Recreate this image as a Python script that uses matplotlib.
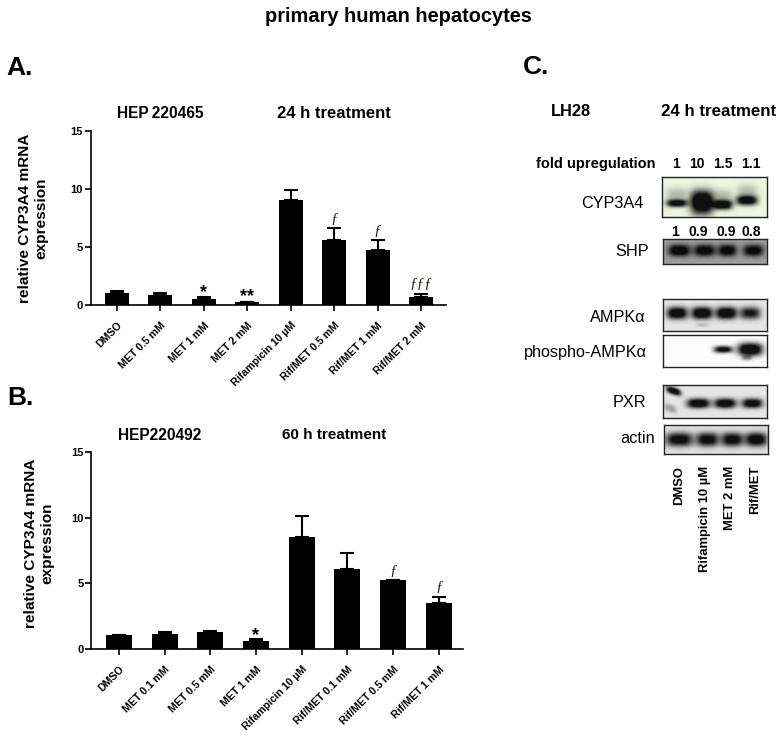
#!/usr/bin/env python3
"""CYP3A4 expression in primary human hepatocytes: two bar panels and a blot panel"""

import matplotlib
matplotlib.use('Agg')
import matplotlib.pyplot as plt
import numpy as np

plt.rcParams['font.family'] = ['Liberation Sans', 'DejaVu Sans']

W, H = 784, 737

# Panel A
labels_a = ['DMSO', 'MET 0.5 mM', 'MET 1 mM', 'MET 2 mM', 'Rifampicin 10 µM',
            'Rif/MET 0.5 mM', 'Rif/MET 1 mM', 'Rif/MET 2 mM']
values_a = [1.0, 0.86, 0.54, 0.23, 9.03, 5.62, 4.73, 0.72]
upper_a = [1.2, 1.0, 0.66, 0.3, 9.89, 6.62, 5.56, 0.97]
marks_a = ['', '', '*', '**', '', 'ƒ', 'ƒ', 'ƒƒƒ']

# Panel B
labels_b = ['DMSO', 'MET 0.1 mM', 'MET 0.5 mM', 'MET 1 mM', 'Rifampicin 10 µM',
            'Rif/MET 0.1 mM', 'Rif/MET 0.5 mM', 'Rif/MET 1 mM']
values_b = [1.04, 1.17, 1.29, 0.63, 8.55, 6.07, 5.23, 3.53]
upper_b = [1.09, 1.27, 1.37, 0.76, 10.13, 7.28, 5.25, 3.98]
marks_b = ['', '', '', '*', '', '', 'ƒ', 'ƒ']

y_ticks = [0, 5, 10, 15]

# Panel C band strengths per lane
fold_cyp = ['1', '10', '1.5', '1.1']
fold_shp = ['1', '0.9', '0.9', '0.8']
lanes_c = ['DMSO', 'Rifampicin 10 µM', 'MET 2 mM', 'Rif/MET']
cyp_bands = [0.85, 1.0, 0.95, 0.9]
shp_bands = [0.95, 0.9, 0.9, 0.85]
ampk_bands = [0.95, 1.0, 1.0, 0.75]
pampk_bands = [0.0, 0.0, 0.85, 1.0]
pxr_bands = [0.95, 0.95, 0.95, 0.9]
actin_bands = [0.85, 0.85, 0.85, 0.9]


def px_axes(fig, left, top, right, bottom):
    return fig.add_axes([left / W, 1 - bottom / H, (right - left) / W, (bottom - top) / H])


def px_text(fig, x, y, s, **kw):
    kw.setdefault('ha', 'center')
    kw.setdefault('va', 'center')
    return fig.text(x / W, 1 - y / H, s, **kw)


def bar_panel(fig, box, xlim, width, labels, values, upper, marks):
    ax = px_axes(fig, *box)
    x = np.arange(len(values))
    err = np.array(upper) - np.array(values)
    ax.bar(x, values, width=width, color='black')
    ax.errorbar(x, values, yerr=[np.zeros(len(err)), err], fmt='none', ecolor='black',
                elinewidth=1.5, capsize=4.8, capthick=1.5)
    ax.set_xlim(*xlim)
    ax.set_ylim(0, 15)
    ax.set_yticks(y_ticks)
    ax.set_xticks(x)
    ax.set_xticklabels(labels, rotation=45, ha='right', rotation_mode='anchor',
                       fontsize=7.6, fontweight='bold')
    ax.tick_params(axis='y', labelsize=8, width=1.2, length=4, pad=1.5)
    ax.tick_params(axis='x', width=1.2, length=4, pad=7)
    for lab in ax.get_yticklabels():
        lab.set_fontweight('bold')
    ax.spines['top'].set_visible(False)
    ax.spines['right'].set_visible(False)
    ax.spines['left'].set_linewidth(1.2)
    ax.spines['bottom'].set_linewidth(1.2)
    ax.patch.set_alpha(0)
    for xi, top, m in zip(x, upper, marks):
        if m.startswith('*'):
            ax.text(xi, top - 0.35, m, ha='center', va='bottom', fontsize=13, fontweight='bold')
        elif m:
            ax.text(xi, top + 0.2, m, ha='center', va='bottom', fontsize=11,
                    family='Liberation Serif', style='italic', color='#1c2410')
    return ax


def band(xx, yy, cx, cy, w, h, s, tilt=0.0):
    dy = yy - cy - tilt * (xx - cx)
    return 1.35 * s * np.exp(-np.abs((xx - cx) / w) ** 3 - np.abs(dy / (1.2 * h)) ** 2.4)


def blot(fig, box, bands, bg=(0.93, 0.93, 0.93), edge=1.0):
    """bands: list of (x, y, half width, half height, strength[, tilt]) in box fractions"""
    ax = px_axes(fig, *box)
    xx, yy = np.meshgrid(np.linspace(0, 1, 210), np.linspace(0, 1, 70))
    dark = np.zeros_like(xx)
    for b in bands:
        dark += band(xx, yy, *b)
    dark = np.clip(dark, 0, 1)
    img = np.ones(xx.shape + (3,)) * np.array(bg)
    img = img * (1 - 0.93 * dark[..., None])
    ax.imshow(img, extent=(0, 1, 1, 0), aspect='auto', interpolation='bilinear')
    ax.set_xticks([])
    ax.set_yticks([])
    for sp in ax.spines.values():
        sp.set_linewidth(edge)
        sp.set_color('#222222')
    return ax


def main():
    fig = plt.figure(figsize=(W / 100, H / 100), dpi=100)

    px_text(fig, 398, 16, 'primary human hepatocytes', fontsize=14.4, fontweight='bold')

    # A
    px_text(fig, 20, 68, 'A.', fontsize=19, fontweight='bold')
    px_text(fig, 160, 113, 'HEP\u2009220465', fontsize=11.2, fontweight='bold')
    px_text(fig, 334, 113, '24 h treatment', fontsize=12, fontweight='bold')
    px_text(fig, 33, 218, 'relative CYP3A4 mRNA\nexpression', fontsize=11.1, fontweight='bold',
            rotation=90, linespacing=1.2)
    bar_panel(fig, (90.7, 130.7, 446, 305), (-0.606, 7.576), 0.55,
              labels_a, values_a, upper_a, marks_a)

    # B
    px_text(fig, 20, 398, 'B.', fontsize=19, fontweight='bold')
    px_text(fig, 160, 435, 'HEP220492', fontsize=11.2, fontweight='bold')
    px_text(fig, 334.5, 435, '60 h treatment', fontsize=11, fontweight='bold')
    px_text(fig, 39.5, 543, 'relative CYP3A4 mRNA\nexpression', fontsize=11.1, fontweight='bold',
            rotation=90, linespacing=1.2)
    bar_panel(fig, (91, 452, 463, 649), (-0.61, 7.53), 0.57,
              labels_b, values_b, upper_b, marks_b)

    # C
    px_text(fig, 536, 67, 'C.', fontsize=19, fontweight='bold')
    px_text(fig, 571, 111, 'LH28', fontsize=11.8, fontweight='bold')
    px_text(fig, 719, 111, '24 h treatment', fontsize=12.2, fontweight='bold')
    px_text(fig, 596, 164, 'fold upregulation', fontsize=10.5, fontweight='bold')
    for xp, s in zip([676, 697, 723, 751], fold_cyp):
        px_text(fig, xp, 164, s, fontsize=10, fontweight='bold')
    for xp, s in zip([675, 698, 726, 751], fold_shp):
        px_text(fig, xp, 232, s, fontsize=10, fontweight='bold')

    cyp_x = [0.14, 0.38, 0.58, 0.81]
    cyp_w = [0.10, 0.11, 0.09, 0.10]
    cyp_y = [0.66, 0.66, 0.70, 0.59]
    cyp_h = [0.08, 0.24, 0.10, 0.10]
    rows = [(cyp_x[i], cyp_y[i], cyp_w[i], cyp_h[i], cyp_bands[i]) for i in range(4)]
    rows += [(cyp_x[i], cyp_y[i] - 0.2, cyp_w[i], 0.16, 0.2) for i in range(4)]
    blot(fig, (662, 177, 767, 217), rows, bg=(0.93, 0.96, 0.88))

    shp_x = [0.155, 0.40, 0.62, 0.87]
    shp_w = [0.105, 0.105, 0.09, 0.10]
    blot(fig, (663, 239, 767, 264),
         [(shp_x[i], 0.46, shp_w[i], 0.2, shp_bands[i]) for i in range(4)],
         bg=(0.62, 0.62, 0.62))

    ampk_x = [0.135, 0.375, 0.61, 0.84]
    rows = [(ampk_x[i], 0.44, 0.10, 0.16, ampk_bands[i]) for i in range(4)]
    rows.append((0.375, 0.82, 0.06, 0.05, 0.15))
    blot(fig, (663, 299, 767, 331), rows, bg=(0.9, 0.9, 0.9))

    pampk_x = [0.135, 0.375, 0.58, 0.84]
    pampk_w = [0.09, 0.09, 0.09, 0.12]
    pampk_h = [0.08, 0.08, 0.09, 0.17]
    rows = [(pampk_x[i], 0.45, pampk_w[i], pampk_h[i], pampk_bands[i]) for i in range(4)]
    rows.append((0.81, 0.72, 0.05, 0.07, 0.3))
    blot(fig, (663, 335, 767, 367), rows, bg=(0.99, 0.99, 0.99))

    pxr_x = [0.34, 0.60, 0.86]
    pxr_w = [0.11, 0.105, 0.10]
    rows = [(pxr_x[i], 0.57, pxr_w[i], 0.12, pxr_bands[i + 1]) for i in range(3)]
    rows.append((0.10, 0.2, 0.07, 0.09, pxr_bands[0], 0.9))
    rows.append((0.07, 0.72, 0.06, 0.10, 0.25, 1.0))
    blot(fig, (663, 385, 767, 418), rows, bg=(0.9, 0.9, 0.9))

    actin_x = [0.145, 0.415, 0.65, 0.88]
    actin_w = [0.13, 0.105, 0.105, 0.105]
    blot(fig, (663.5, 425, 768, 454),
         [(actin_x[i], 0.5, actin_w[i], 0.2, actin_bands[i]) for i in range(4)],
         bg=(0.88, 0.88, 0.88))

    for y, s, right in [(203, 'CYP3A4', 643), (252, 'SHP', 649), (318, 'AMPKα', 646),
                        (352, 'phospho-AMPKα', 647), (403, 'PXR', 646), (439, 'actin', 655)]:
        px_text(fig, right, y, s, fontsize=11.7, ha='right')

    for xp, s in zip([679, 705, 730, 755], lanes_c):
        px_text(fig, xp, 466, s, fontsize=9.4, fontweight='bold', rotation=90, va='top')

    fig.savefig('out.png', dpi=100)


if __name__ == '__main__':
    main()
